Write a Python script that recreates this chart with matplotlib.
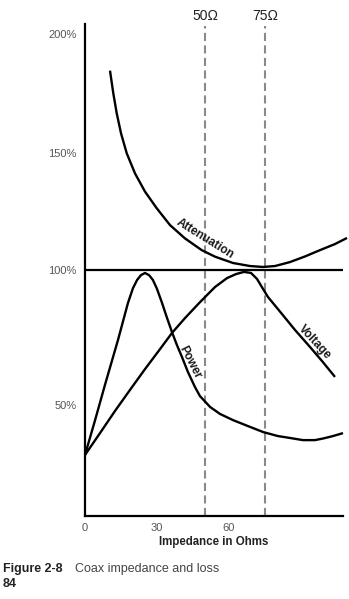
import numpy as np
import matplotlib
matplotlib.use("Agg")
import matplotlib.pyplot as plt
from matplotlib.transforms import blended_transform_factory

plt.rcParams["font.family"] = ["Liberation Sans", "DejaVu Sans"]

# Impedance (ohms) and relative level (%) of each curve
atten_ohms = [10.42, 11.79, 13.21, 15.0, 17.38, 20.83, 25.0, 29.88, 35.42, 41.67,
              48.63, 54.17, 61.67, 68.75, 74.17, 79.17, 85.42, 91.67, 97.92,
              104.17, 109.17]
atten_pct = [184.6, 175.1, 166.7, 158.3, 149.9, 141.3, 133.5, 126.4, 119.2, 113.5,
             108.5, 105.7, 103.0, 101.7, 101.3, 101.7, 103.4, 105.8, 108.5,
             111.1, 113.7]

power_ohms = [0.0, 4.2, 8.3, 13.75, 17.9, 20.0, 21.7, 23.3, 25.0, 26.7, 28.3, 30.0,
              32.1, 34.2, 36.25, 38.3, 40.4, 42.9, 45.8, 47.9, 52.1, 56.25, 61.7,
              67.9, 74.2, 80.4, 85.4, 90.8, 95.8, 99.2, 103.3, 107.5]
power_pct = [31.5, 44.4, 57.4, 74.1, 87.8, 93.3, 96.3, 98.1, 98.9, 98.1, 96.3, 93.0,
             87.8, 82.2, 77.0, 72.2, 67.8, 62.2, 56.7, 53.3, 49.3, 46.7, 44.4,
             42.2, 40.0, 38.5, 37.8, 37.0, 37.0, 37.6, 38.5, 39.6]

volt_ohms = [0.0, 6.25, 12.5, 18.75, 25.0, 31.25, 36.25, 41.67, 47.92, 54.17,
             59.17, 62.92, 66.25, 69.17, 71.67, 74.17, 76.25, 82.08, 87.5, 93.75,
             98.75, 104.17]
volt_pct = [31.5, 39.6, 47.8, 55.6, 63.3, 70.7, 76.7, 82.2, 88.1, 93.7,
            97.0, 98.5, 99.3, 98.9, 96.7, 93.0, 90.0, 83.7, 77.8, 71.5,
            66.3, 60.4]

ref_ohms = [50, 75]
ref_labels = ["50Ω", "75Ω"]
x_ticks = [0, 30, 60]
y_ticks = [50, 100, 150, 200]
y_tick_labels = ["50%", "100%", "150%", "200%"]

# The printed value axis spaces its gridlines unevenly: relative length of each 50% step
y_knots = np.array([50.0, 100.0, 150.0, 200.0])
y_span = np.array([0.0, 135.0, 252.0, 371.0])


def _pw(v, xs, ys):
    v = np.asarray(v, dtype=float)
    out = np.interp(v, xs, ys)
    lo_slope = (ys[1] - ys[0]) / (xs[1] - xs[0])
    hi_slope = (ys[-1] - ys[-2]) / (xs[-1] - xs[-2])
    out = np.where(v < xs[0], ys[0] + (v - xs[0]) * lo_slope, out)
    out = np.where(v > xs[-1], ys[-1] + (v - xs[-1]) * hi_slope, out)
    return out


def y_forward(v):
    return _pw(v, y_knots, y_span)


def y_inverse(u):
    return _pw(u, y_span, y_knots)


fig = plt.figure(figsize=(3.49, 5.99), dpi=100)
fig.patch.set_facecolor("white")
ax = fig.add_axes([85 / 349, 83 / 599, 258 / 349, 492 / 599])
ax.set_yscale("function", functions=(y_forward, y_inverse))
ax.set_xlim(0, 107.5)
ax.set_ylim(8.9, 204.2)

line_kw = dict(color="black", lw=1.7, solid_joinstyle="round",
               solid_capstyle="butt", clip_on=False, zorder=3)
ax.plot(atten_ohms, atten_pct, **line_kw)
ax.plot(power_ohms, power_pct, **line_kw)
ax.plot(volt_ohms, volt_pct, **line_kw)

ax.axhline(100, color="black", lw=1.6, zorder=2)

# Reference impedances
trans = blended_transform_factory(ax.transData, ax.transAxes)
for ohm, lab in zip(ref_ohms, ref_labels):
    ax.axvline(ohm, ymin=0, ymax=0.995, color="#8a8a8a", lw=1.5,
               dashes=(3.9, 2.1), zorder=1)
    ax.text(ohm, 1.016, lab, transform=trans, ha="center", va="center",
            fontsize=10, color="#222222")

# Curve names set along the lines
lab_kw = dict(fontsize=8.5, fontweight="bold", color="#1a1a1a",
              ha="center", va="center", rotation_mode="anchor")
ax.text(50.0, 113.2, "Attenuation", rotation=-32, **lab_kw)
ax.text(43.75, 65.9, "Power", rotation=-63, **lab_kw)
ax.text(95.8, 73.3, "Voltage", rotation=-47, **lab_kw)

# Axes styling
for side in ("top", "right"):
    ax.spines[side].set_visible(False)
for side in ("left", "bottom"):
    ax.spines[side].set_linewidth(1.6)
    ax.spines[side].set_color("black")

ax.set_xticks(x_ticks)
ax.set_xticklabels([str(t) for t in x_ticks])
ax.set_yticks(y_ticks)
ax.set_yticklabels(y_tick_labels)
ax.minorticks_off()
ax.tick_params(axis="both", length=0, labelsize=8, labelcolor="#555555")
ax.tick_params(axis="y", pad=6)
ax.tick_params(axis="x", pad=5)
ax.set_xlabel("Impedance in Ohms", fontsize=8.3, fontweight="bold",
              color="#222222", labelpad=2)

# Caption
fig.text(3 / 349, 1 - 569 / 599, "Figure 2-8", fontsize=9, fontweight="bold",
         color="#222222", ha="left", va="center")
fig.text(75 / 349, 1 - 569 / 599, "Coax impedance and loss", fontsize=9,
         color="#444444", ha="left", va="center")
fig.text(3 / 349, 1 - 584 / 599, "84", fontsize=9, fontweight="bold",
         color="#222222", ha="left", va="center")

fig.savefig("out.png", dpi=100, facecolor="white")
